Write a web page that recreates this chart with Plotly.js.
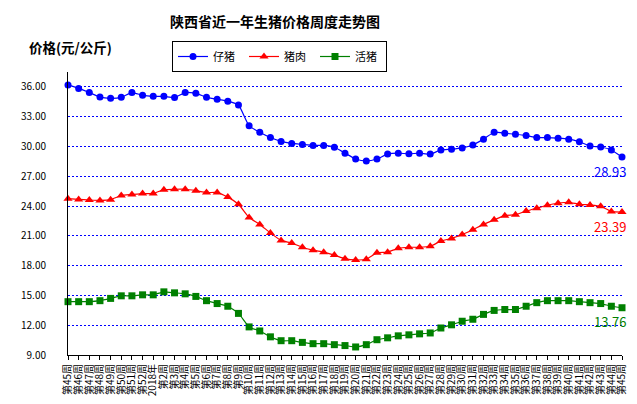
<!DOCTYPE html>
<html>
<head>
<meta charset="utf-8">
<script src="https://cdn.plot.ly/plotly-3.0.1.min.js"></script>
<style>
    html, body { margin: 0; padding: 0; background: #fff; }
    #chart { width: 637px; height: 404px; }
</style>
</head>
<body>
<div id="chart"></div>
<script>
// 周次标签
const weeks = [
    "第45周", "第46周", "第47周", "第48周", "第49周", "第50周", "第51周", "第52周",
    "2018年",
    "第2周", "第3周", "第4周", "第5周", "第6周", "第7周", "第8周", "第9周", "第10周",
    "第11周", "第12周", "第13周", "第14周", "第15周", "第16周", "第17周", "第18周",
    "第19周", "第20周", "第21周", "第22周", "第23周", "第24周", "第25周", "第26周",
    "第27周", "第28周", "第29周", "第30周", "第31周", "第32周", "第33周", "第34周",
    "第35周", "第36周", "第37周", "第38周", "第39周", "第40周", "第41周", "第42周",
    "第43周", "第44周", "第45周"
];

// 仔猪
const piglet = [
    36.2, 35.85, 35.43, 34.97, 34.85, 34.95, 35.43, 35.15, 35.05, 35.05, 34.93, 35.43,
    35.35, 34.95, 34.75, 34.55, 34.18,
    32.08, 31.43, 30.9, 30.51, 30.31, 30.21, 30.11, 30.11, 29.92, 29.33, 28.74, 28.54,
    28.74, 29.23, 29.33, 29.26, 29.33, 29.23, 29.65,
    29.72, 29.85, 30.15, 30.74, 31.43, 31.33, 31.23, 31.1, 30.9, 30.9, 30.84, 30.74,
    30.47, 30.05, 29.95, 29.65, 28.93
];

// 猪肉
const pork = [
    24.74, 24.67, 24.61, 24.57, 24.64, 25.06, 25.16, 25.26, 25.26, 25.65, 25.69, 25.69,
    25.55, 25.36, 25.36, 24.9, 24.18,
    22.85, 22.15, 21.29, 20.54, 20.28, 19.85, 19.56, 19.36, 19.06, 18.7, 18.57, 18.64,
    19.29, 19.36, 19.75, 19.85, 19.85, 19.95, 20.47,
    20.74, 21.13, 21.62, 22.15, 22.61, 23.03, 23.13, 23.49, 23.79, 24.08, 24.28, 24.38,
    24.18, 24.11, 23.98, 23.46, 23.39
];

// 活猪
const hog = [
    14.37, 14.37, 14.37, 14.47, 14.7, 14.96, 14.96, 15.06, 15.06, 15.36, 15.26, 15.16,
    14.9, 14.47, 14.18, 13.91, 13.19,
    11.83, 11.42, 10.83, 10.44, 10.44, 10.27, 10.14, 10.14, 10.04, 9.95, 9.81, 10.04,
    10.54, 10.73, 10.93, 11.03, 11.13, 11.22, 11.72,
    12.04, 12.4, 12.6, 13.09, 13.49, 13.58, 13.58, 13.91, 14.27, 14.47, 14.47, 14.47,
    14.37, 14.27, 14.18, 13.91, 13.76
];

const idx = weeks.map((w, i) => i);
const cjk = "'Noto Sans CJK SC', 'Noto Sans', sans-serif";

const series = [
    { name: "仔猪", y: piglet, color: "#0000ff", symbol: "circle", size: 7 },
    { name: "猪肉", y: pork, color: "#ff0000", symbol: "triangle-up", size: 8 },
    { name: "活猪", y: hog, color: "#008000", symbol: "square", size: 7 },
];

const data = series.map((s) => ({
    x: idx,
    y: s.y,
    name: s.name,
    type: "scatter",
    mode: "lines+markers",
    cliponaxis: false,
    line: { color: s.color, width: 1.2, shape: "spline", smoothing: 0.5 },
    marker: { color: s.color, symbol: s.symbol, size: s.size },
}));

const last = idx.length - 1;
const annotations = series.map((s) => ({
    x: last,
    y: s.y[last],
    xref: "x",
    yref: "y",
    text: s.y[last].toFixed(2),
    showarrow: false,
    xanchor: "right",
    yanchor: "middle",
    xshift: 6,
    yshift: -14,
    font: { family: cjk, size: 13, color: s.color },
}));

annotations.push({
    text: "<b>价格(元/公斤)</b>",
    xref: "paper",
    yref: "paper",
    x: (27 - 68) / 555,
    y: 1 + 25 / 288,
    xanchor: "left",
    yanchor: "middle",
    showarrow: false,
    font: { family: cjk, size: 13.5, color: "#000" },
});

const layout = {
    width: 637,
    height: 404,
    margin: { l: 68, r: 15, t: 67, b: 49 },
    paper_bgcolor: "#fff",
    plot_bgcolor: "#fff",
    font: { family: cjk, size: 10, color: "#000" },
    title: {
        text: "<b>陕西省近一年生猪价格周度走势图</b>",
        font: { family: cjk, size: 14, color: "#000" },
        xref: "container",
        yref: "container",
        x: 275 / 637,
        xanchor: "center",
        y: 1 - 22 / 404,
        yanchor: "middle",
    },
    showlegend: true,
    legend: {
        orientation: "h",
        xref: "container",
        yref: "container",
        x: 172 / 637,
        xanchor: "left",
        y: 1 - 41 / 404,
        yanchor: "top",
        bordercolor: "#000",
        borderwidth: 1,
        bgcolor: "#fff",
        entrywidth: 26,
        font: { family: cjk, size: 11, color: "#000" },
        tracegroupgap: 0,
    },
    xaxis: {
        range: [0, last],
        tickmode: "array",
        tickvals: idx,
        ticktext: weeks,
        tickangle: -90,
        ticks: "outside",
        ticklen: 4,
        tickcolor: "#000",
        showline: true,
        linecolor: "#000",
        linewidth: 1,
        showgrid: false,
        zeroline: false,
        tickfont: { family: cjk, size: 10, color: "#000" },
    },
    yaxis: {
        range: [9, 37.5],
        tick0: 9,
        dtick: 3,
        tickformat: ".2f",
        ticks: "",
        ticklabelstandoff: 19,
        showline: true,
        linecolor: "#000",
        linewidth: 1,
        showgrid: true,
        gridcolor: "#0000ff",
        gridwidth: 1,
        griddash: "2px,2px",
        zeroline: false,
        tickfont: { family: cjk, size: 10, color: "#000" },
    },
    annotations: annotations,
};

Plotly.newPlot("chart", data, layout, { displayModeBar: false, staticPlot: true });
</script>
</body>
</html>
